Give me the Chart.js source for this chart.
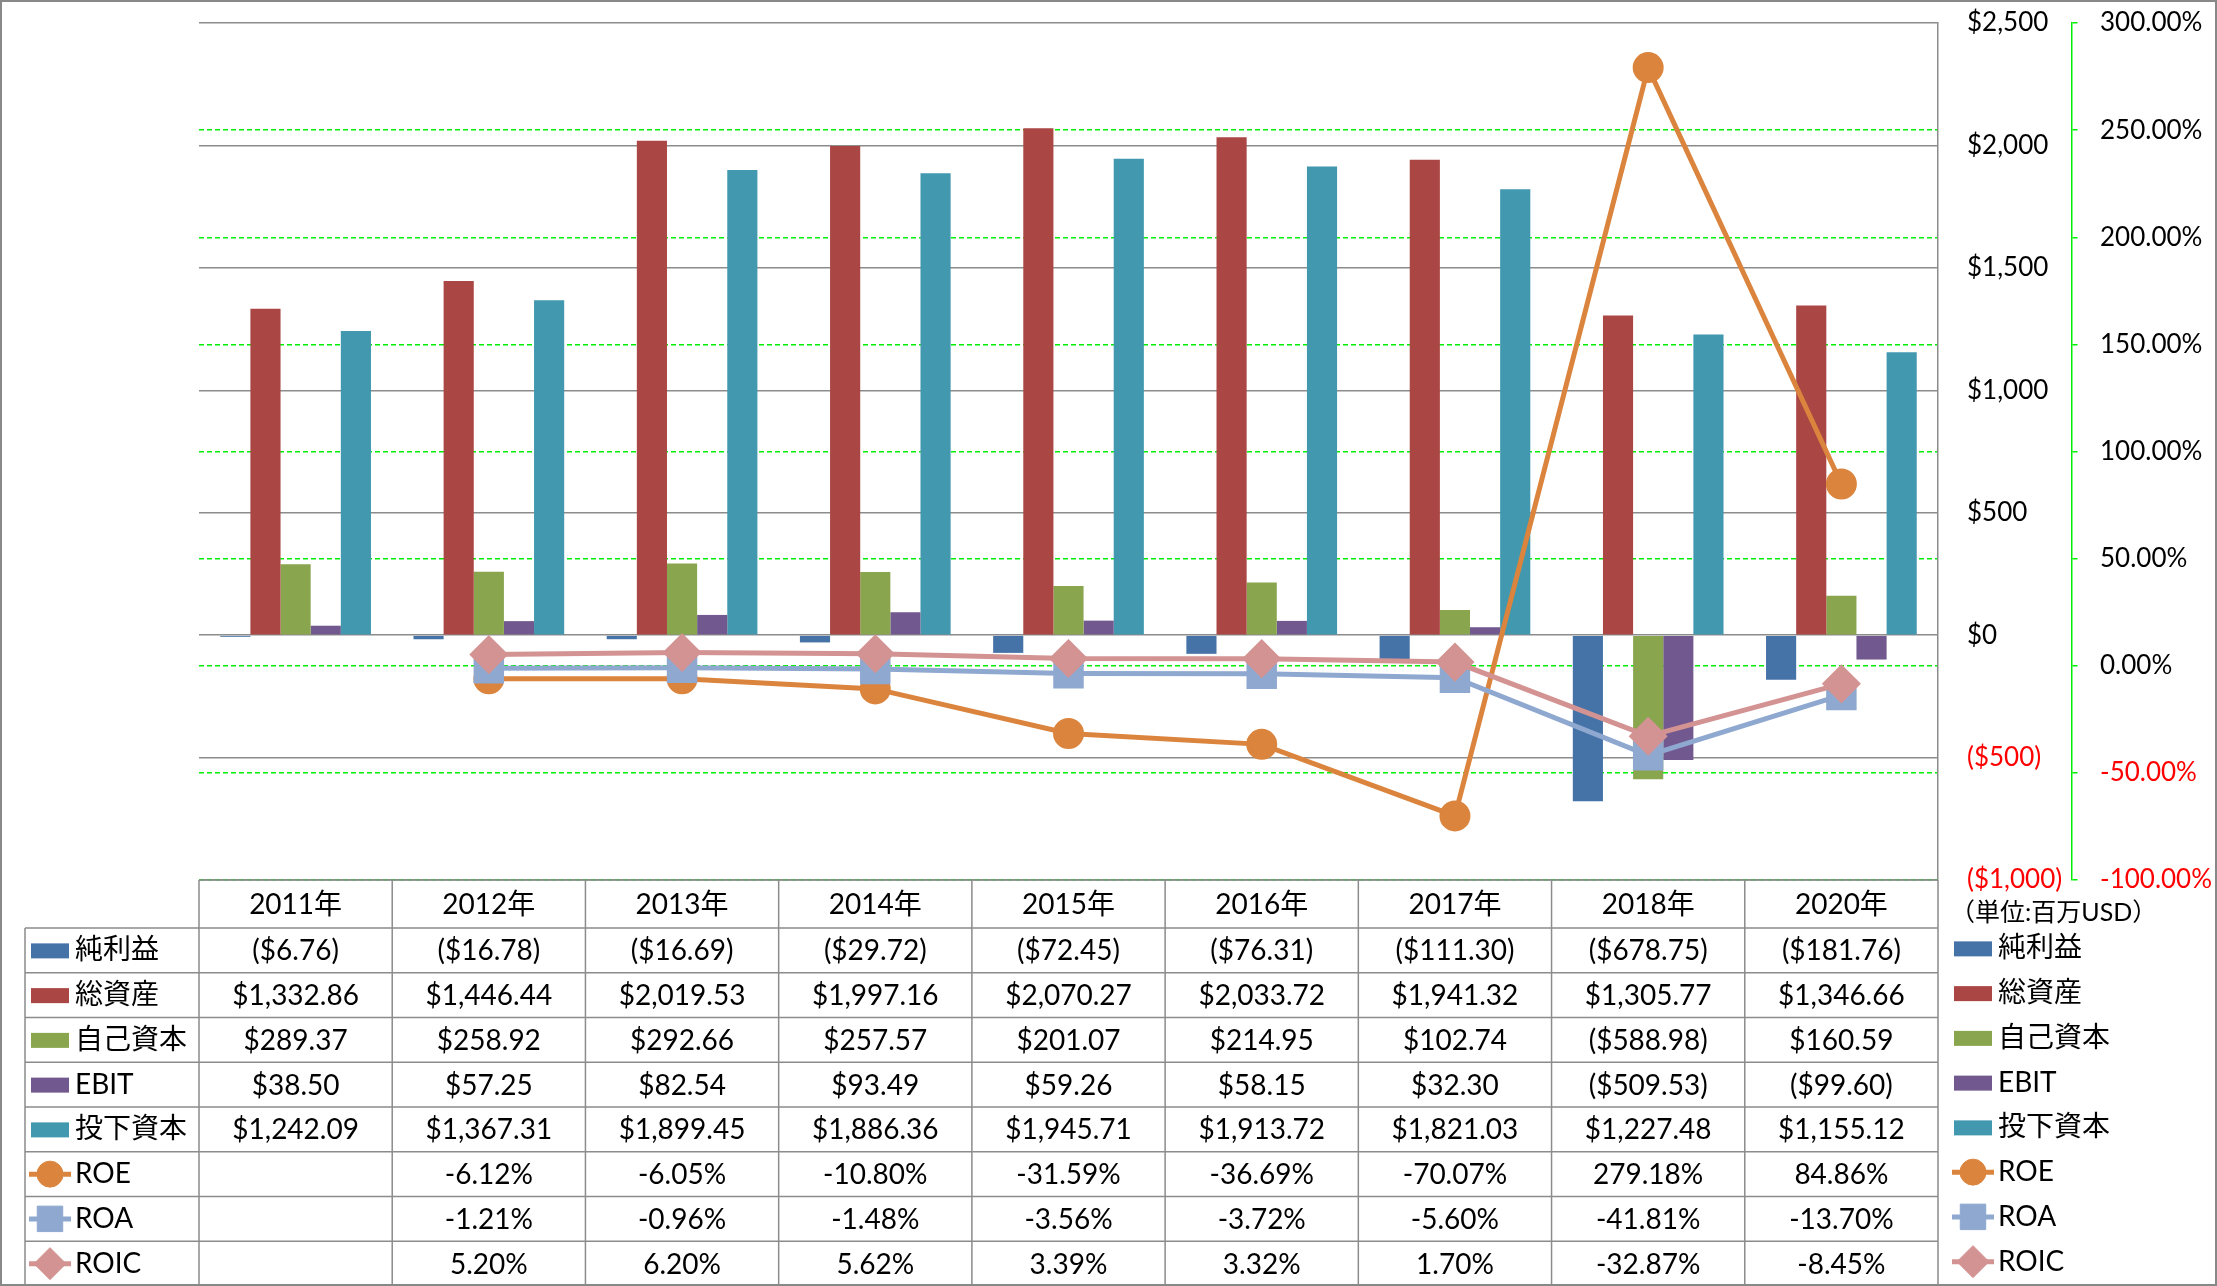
<!DOCTYPE html>
<html>
<head>
<meta charset="utf-8">
<script src="https://cdn.jsdelivr.net/npm/chart.js@4.4.1/dist/chart.umd.min.js"></script>
<style>
html, body { margin: 0; padding: 0; background: #fff; }
#wrap { width: 2217px; height: 1286px; }
</style>
</head>
<body>
<div id="wrap"><canvas id="chart" width="2217" height="1286"></canvas></div>
<script>
// categories
const years = ['2011年', '2012年', '2013年', '2014年', '2015年', '2016年', '2017年', '2018年', '2020年'];

// bar series (million USD)
const netIncome = [-6.76, -16.78, -16.69, -29.72, -72.45, -76.31, -111.30, -678.75, -181.76];
const totalAssets = [1332.86, 1446.44, 2019.53, 1997.16, 2070.27, 2033.72, 1941.32, 1305.77, 1346.66];
const equity = [289.37, 258.92, 292.66, 257.57, 201.07, 214.95, 102.74, -588.98, 160.59];
const ebit = [38.50, 57.25, 82.54, 93.49, 59.26, 58.15, 32.30, -509.53, -99.60];
const investedCapital = [1242.09, 1367.31, 1899.45, 1886.36, 1945.71, 1913.72, 1821.03, 1227.48, 1155.12];

// line series (%)
const roe = [null, -6.12, -6.05, -10.80, -31.59, -36.69, -70.07, 279.18, 84.86];
const roa = [null, -1.21, -0.96, -1.48, -3.56, -3.72, -5.60, -41.81, -13.70];
const roic = [null, 5.20, 6.20, 5.62, 3.39, 3.32, 1.70, -32.87, -8.45];

// axis ticks
const usdTicks = [-1000, -500, 0, 500, 1000, 1500, 2000, 2500];
const pctTicks = [-100, -50, 0, 50, 100, 150, 200, 250, 300];

const unitLabel = '（単位:百万USD）';

const FONT = "Lato, 'Noto Sans CJK JP', sans-serif";
Chart.defaults.font.family = FONT;
Chart.defaults.font.size = 26;
Chart.defaults.color = '#000';

const GREEN = '#00ee00';

function money(v) {
    const s = '$' + Math.abs(v).toLocaleString('en-US', {minimumFractionDigits: 2, maximumFractionDigits: 2});
    return v < 0 ? '(' + s + ')' : s;
}
function moneyTick(v) {
    const s = '$' + Math.abs(v).toLocaleString('en-US');
    return v < 0 ? '(' + s + ')' : s;
}
function pct(v) {
    return v == null ? '' : v.toFixed(2) + '%';
}

const tablePlugin = {
    id: 'dataTable',
    afterDraw(chart) {
        const ctx = chart.ctx;
        const xs = chart.scales.x;
        const area = chart.chartArea;
        const cw = (area.right - area.left) / years.length;
        const top = area.bottom;
        const headH = 48;
        const rowH = (chart.height - top - headH) / 8;
        const firstX = 25;
        const ds = chart.data.datasets;

        ctx.save();
        ctx.strokeStyle = '#8c8c8c';
        ctx.lineWidth = 1.5;
        ctx.setLineDash([]);
        ctx.beginPath();
        ctx.moveTo(area.left, top);
        ctx.lineTo(area.right, top);
        for (let r = 0; r < 8; r++) {
            const y = top + headH + r * rowH;
            ctx.moveTo(firstX, y);
            ctx.lineTo(area.right, y);
        }
        ctx.moveTo(firstX, top + headH);
        ctx.lineTo(firstX, chart.height);
        for (let i = 0; i <= years.length; i++) {
            const x = area.left + i * cw;
            ctx.moveTo(x, top);
            ctx.lineTo(x, chart.height);
        }
        ctx.stroke();

        ctx.fillStyle = '#000';
        ctx.textBaseline = 'middle';
        ctx.textAlign = 'center';
        ctx.font = '28px ' + FONT;
        years.forEach((y, i) => ctx.fillText(y, xs.getPixelForValue(i), top + headH / 2 + 1));

        ds.forEach((d, r) => {
            const cy = top + headH + r * rowH + rowH / 2;
            ctx.textAlign = 'center';
            ctx.fillStyle = '#000';
            d.data.forEach((v, i) => {
                const txt = d.type === 'line' ? pct(v) : money(v);
                ctx.fillText(txt, xs.getPixelForValue(i), cy + 1);
            });
            drawKey(ctx, d, 50, cy);
            ctx.textAlign = 'left';
            ctx.fillStyle = '#000';
            ctx.fillText(d.label, 75, cy);
            drawKey(ctx, d, 1973, cy - 2);
            ctx.fillStyle = '#000';
            ctx.textAlign = 'left';
            ctx.fillText(d.label, 1998, cy - 2);
        });

        ctx.font = '25px ' + FONT;
        ctx.textAlign = 'left';
        ctx.fillText(unitLabel, 1950, 913);

        ctx.strokeStyle = '#888';
        ctx.lineWidth = 2;
        ctx.strokeRect(1, 1, chart.width - 2, chart.height - 2);
        ctx.restore();
    }
};

function drawKey(ctx, d, cx, cy) {
    if (d.type === 'line') {
        ctx.strokeStyle = d.borderColor;
        ctx.lineWidth = 5;
        ctx.beginPath();
        ctx.moveTo(cx - 21, cy);
        ctx.lineTo(cx + 21, cy);
        ctx.stroke();
        ctx.fillStyle = d.pointBackgroundColor;
        ctx.strokeStyle = d.pointBackgroundColor;
        ctx.lineWidth = 1;
        Chart.helpers.drawPoint(ctx, {pointStyle: d.pointStyle, radius: d.pointRadius, rotation: 0, borderWidth: 1}, cx, cy);
    } else {
        ctx.fillStyle = d.backgroundColor;
        ctx.fillRect(cx - 19, cy - 7, 38, 15);
    }
}

function bar(label, data, color) {
    return {type: 'bar', label: label, data: data, backgroundColor: color, yAxisID: 'y', order: 10,
        categoryPercentage: 0.78, barPercentage: 1};
}
function line(label, data, color, style, radius, order) {
    return {type: 'line', label: label, data: data, borderColor: color, backgroundColor: color,
        pointBackgroundColor: color, pointBorderColor: color, pointStyle: style, pointRadius: radius,
        borderWidth: 5, yAxisID: 'y1', order: order, tension: 0};
}

// keep the plot area exactly where the layout padding puts it
function fitAxis(width) {
    return s => { s.width = width; s.paddingTop = 0; s.paddingBottom = 0; };
}

new Chart(document.getElementById('chart').getContext('2d'), {
    data: {
        labels: years,
        datasets: [
            bar('純利益', netIncome, '#4572A7'),
            bar('総資産', totalAssets, '#AA4643'),
            bar('自己資本', equity, '#89A54E'),
            bar('EBIT', ebit, '#71588F'),
            bar('投下資本', investedCapital, '#4198AF'),
            line('ROE', roe, '#DB843D', 'circle', 13, 3),
            line('ROA', roa, '#8FA8D0', 'rect', 18, 2),
            line('ROIC', roic, '#D39392', 'rectRot', 16, 1)
        ]
    },
    options: {
        responsive: false,
        animation: false,
        devicePixelRatio: 1,
        layout: {padding: {left: 199, top: 19, right: 0, bottom: 406}},
        plugins: {legend: {display: false}, tooltip: {enabled: false}},
        scales: {
            x: {display: false},
            y: {
                position: 'right',
                weight: 0,
                min: -1000,
                max: 2500,
                afterBuildTicks: s => { s.ticks = usdTicks.map(v => ({value: v})); },
                afterFit: fitAxis(134),
                grid: {color: '#8c8c8c', lineWidth: 1.5, drawTicks: false},
                border: {color: '#8c8c8c', width: 1.5},
                ticks: {
                    padding: 29,
                    font: {size: 26},
                    color: c => c.tick && c.tick.value < 0 ? '#ff0000' : '#000',
                    callback: v => moneyTick(v)
                }
            },
            y1: {
                position: 'right',
                weight: 1,
                min: -100,
                max: 300,
                afterBuildTicks: s => { s.ticks = pctTicks.map(v => ({value: v})); },
                afterFit: fitAxis(145),
                grid: {
                    // the top line is covered by the grey $2,500 line in the original
                    color: c => c.tick && c.tick.value === 300 ? 'rgba(0,0,0,0)' : GREEN,
                    lineWidth: 1.5, tickLength: 8, tickColor: GREEN,
                    tickBorderDash: [5, 3], borderDash: [5, 3]
                },
                border: {color: GREEN, width: 1.5, dash: [5, 3]},
                ticks: {
                    padding: 20,
                    font: {size: 26},
                    color: c => c.tick && c.tick.value < 0 ? '#ff0000' : '#000',
                    callback: v => v.toFixed(2) + '%'
                }
            }
        }
    },
    plugins: [tablePlugin]
});
</script>
</body>
</html>
